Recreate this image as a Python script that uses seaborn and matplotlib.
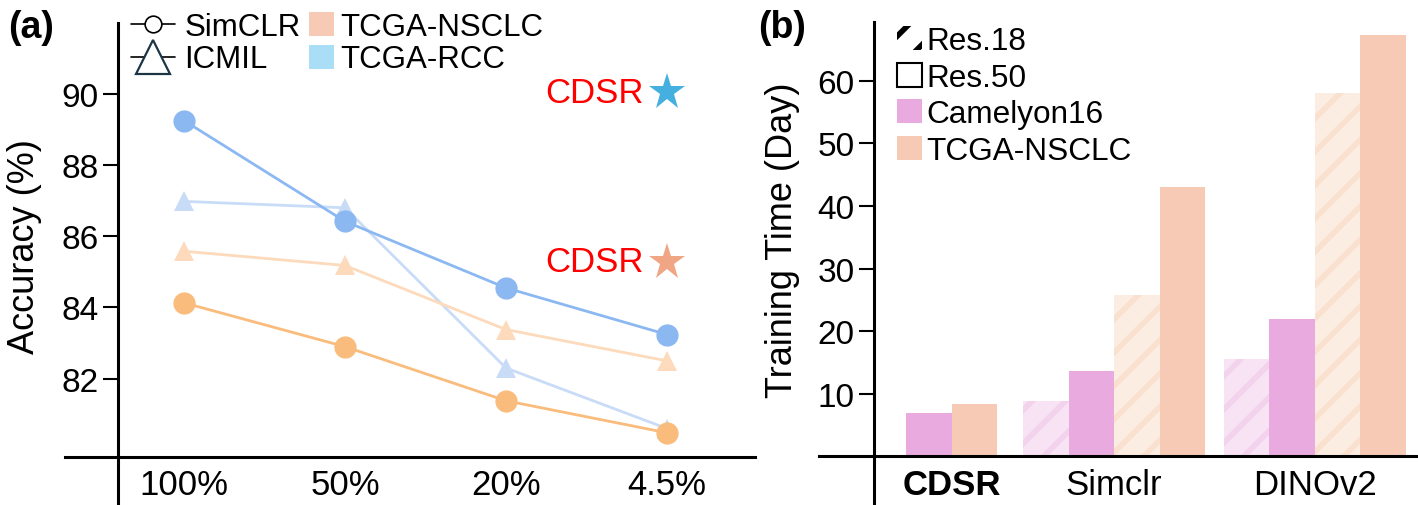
import numpy as np
import pandas as pd
import matplotlib
matplotlib.use("Agg")
import matplotlib.pyplot as plt
import seaborn as sns
from matplotlib.lines import Line2D
from matplotlib.patches import Patch

# ---------------------------------------------------
# data
# ---------------------------------------------------
ratios = ["100%", "50%", "20%", "4.5%"]
simclr_rcc = [89.25, 86.42, 84.55, 83.24]
simclr_nsclc = [84.13, 82.90, 81.38, 80.48]
icmil_rcc = [86.98, 86.80, 82.30, 80.60]
icmil_nsclc = [85.58, 85.18, 83.38, 82.50]
cdsr_rcc = 90.05
cdsr_nsclc = 85.28

methods = ["CDSR", "Simclr", "DINOv2"]
# order inside a group: Camelyon16 Res.18, Camelyon16 Res.50, TCGA Res.18, TCGA Res.50
cam_res18 = [np.nan, 8.9, 15.6]
cam_res50 = [7.0, 13.6, 21.9]
nsclc_res18 = [np.nan, 25.8, 58.0]
nsclc_res50 = [8.3, 43.0, 67.4]

# ---------------------------------------------------
# style
# ---------------------------------------------------
sns.set_theme(style="white")
plt.rcParams["font.family"] = ["Liberation Sans", "DejaVu Sans"]
plt.rcParams["hatch.linewidth"] = 4.0
for k in ["text.color", "axes.labelcolor", "xtick.color", "ytick.color"]:
    plt.rcParams[k] = "black"

blue = "#8cb8f2"
orange = "#f9bc7c"
light_blue = "#c8dcf7"
light_orange = "#fcdabb"
pink = "#e8aadf"
peach = "#f6cab4"
pink_l = "#f7e3f3"
pink_h = "#f2d2ec"
peach_l = "#fcede3"
peach_h = "#f9e0cf"

fig = plt.figure(figsize=(14.18, 5.06), dpi=100)
W, H = 1418, 506


def rect(l, r, t, b):
    return [l / W, 1 - b / H, (r - l) / W, (b - t) / H]


# ===================================================
# (a) accuracy lines
# ===================================================
ax = fig.add_axes(rect(65, 755, 24, 505))

series = [
    (icmil_rcc, light_blue, "^", 15, 2.0),
    (icmil_nsclc, light_orange, "^", 15, 2.0),
    (simclr_rcc, blue, "o", 16, 2.0),
    (simclr_nsclc, orange, "o", 16, 2.0),
]
for vals, col, mk, ms, lw in series:
    d = pd.DataFrame({"x": np.arange(len(ratios)), "acc": vals})
    sns.lineplot(data=d, x="x", y="acc", ax=ax, color=col, marker=mk,
                 markersize=ms, markeredgewidth=0, linewidth=lw)

ax.plot([3], [cdsr_rcc], marker="*", color="#45b0e0", ms=28, mew=0,
        ls="none", clip_on=False)
ax.plot([3], [cdsr_nsclc], marker="*", color="#f0a585", ms=28, mew=0,
        ls="none", clip_on=False)
for yv in [cdsr_rcc, cdsr_nsclc]:
    ax.annotate("CDSR", xy=(3, yv), xytext=(-17, 0), textcoords="offset points",
                ha="right", va="center", color="red", fontsize=25)

ax.set_xlim(-0.739, 3.547)
ax.set_ylim(78.48, 91.99)
for s in ["top", "right"]:
    ax.spines[s].set_visible(False)
ax.spines["left"].set_position(("data", -0.41))
ax.spines["bottom"].set_position(("data", 79.81))
for s in ["left", "bottom"]:
    ax.spines[s].set_linewidth(2.2)
    ax.spines[s].set_color("black")
ax.set_xticks(range(len(ratios)))
ax.set_xticklabels(ratios)
ax.set_yticks([82, 84, 86, 88, 90])
ax.tick_params(axis="y", labelsize=24, length=11, width=1.5, direction="out",
               left=True, pad=3)
ax.tick_params(axis="x", labelsize=25, length=0, pad=8)
ax.set_xlabel("")
ax.set_ylabel("Accuracy (%)", fontsize=26)
ax.yaxis.set_label_coords(-0.033, 0.537)

leg1 = ax.legend(
    handles=[
        Line2D([], [], color="black", lw=1.2, marker="o", mfc="white",
               mec="black", ms=12, mew=1.2),
        Line2D([], [], color="black", lw=1.2, marker="^", mfc="white",
               mec="#1c3545", ms=24, mew=1.6),
    ],
    labels=["SimCLR", "ICMIL"], fontsize=22.5, frameon=False,
    loc="upper left", bbox_to_anchor=(131 / W, 1 - 13 / H),
    bbox_transform=fig.transFigure, borderpad=0, borderaxespad=0,
    handlelength=1.4, handletextpad=0.3, labelspacing=0.08)
ax.add_artist(leg1)
ax.legend(
    handles=[Patch(facecolor=peach, lw=0), Patch(facecolor="#a9def6", lw=0)],
    labels=["TCGA-NSCLC", "TCGA-RCC"], fontsize=22.5, frameon=False,
    loc="upper left", bbox_to_anchor=(309 / W, 1 - 13 / H),
    bbox_transform=fig.transFigure, borderpad=0, borderaxespad=0,
    handlelength=0.8, handleheight=0.8, handletextpad=0.2, labelspacing=0.08)

# ===================================================
# (b) training time bars
# ===================================================
bx = fig.add_axes(rect(819, 1416, 23, 505))

centers = [1.70, 5.26, 9.66]
bw = 1.0
bar_sets = [
    (cam_res18, -1.5, pink_l, pink_h, "/"),
    (cam_res50, -0.5, pink, pink, ""),
    (nsclc_res18, 0.5, peach_l, peach_h, "/"),
    (nsclc_res50, 1.5, peach, peach, ""),
]
for i, c in enumerate(centers):
    for vals, off, fc, hc, hatch in bar_sets:
        v = vals[i]
        if np.isnan(v):
            continue
        if i == 0:
            # CDSR has only two bars, side by side
            off = -0.5 if off < 0 else 0.5
        bx.bar(c + off * bw, v, width=bw, color=fc, edgecolor=hc,
               hatch=hatch, linewidth=0)

bx.set_xlim(-1.213, 11.88)
bx.set_ylim(-7.6, 69.4)
for s in ["top", "right"]:
    bx.spines[s].set_visible(False)
bx.spines["left"].set_position(("data", 0))
bx.spines["bottom"].set_position(("data", 0))
for s in ["left", "bottom"]:
    bx.spines[s].set_linewidth(2.2)
    bx.spines[s].set_color("black")
bx.set_xticks(centers)
bx.set_xticklabels(methods)
bx.set_yticks([10, 20, 30, 40, 50, 60])
bx.tick_params(axis="y", labelsize=24, length=11, width=1.5, direction="out",
               left=True, pad=3)
bx.tick_params(axis="x", labelsize=25, length=0, pad=8)
bx.get_xticklabels()[0].set_fontweight("bold")
bx.set_ylabel("Training Time (Day)", fontsize=26)
bx.yaxis.set_label_coords(-0.032, 0.55)

bx.legend(
    handles=[
        Patch(facecolor="white", edgecolor="black", hatch="/", lw=0),
        Patch(facecolor="white", edgecolor="black", lw=1.5),
        Patch(facecolor=pink, lw=0),
        Patch(facecolor=peach, lw=0),
    ],
    labels=["Res.18", "Res.50", "Camelyon16", "TCGA-NSCLC"], fontsize=22.7,
    frameon=False, loc="upper left", bbox_to_anchor=(897 / W, 1 - 27 / H),
    bbox_transform=fig.transFigure, borderpad=0, borderaxespad=0,
    handlelength=0.8, handleheight=0.8, handletextpad=0.12,
    labelspacing=0.21)

fig.text(8 / W, 1 - 10 / H, "(a)", fontsize=27, fontweight="bold", va="top")
fig.text(758 / W, 1 - 10 / H, "(b)", fontsize=27, fontweight="bold", va="top")

fig.savefig("out.png", dpi=100)
